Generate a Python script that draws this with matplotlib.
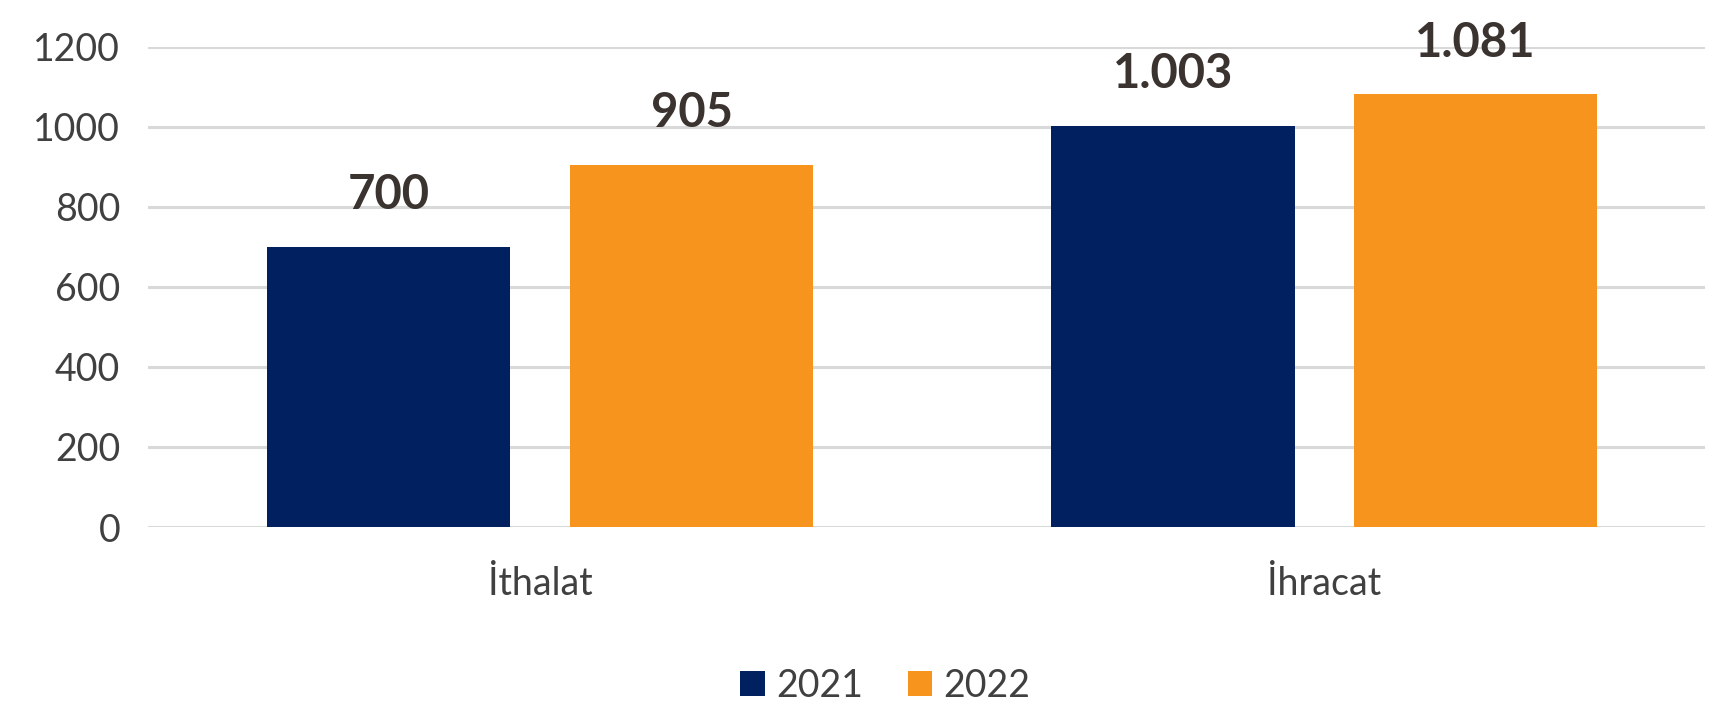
import matplotlib.pyplot as plt
import numpy as np

plt.rcParams['font.family'] = ['Lato', 'DejaVu Sans']

categories = ["İthalat", "İhracat"]
years = ["2021", "2022"]
values_2021 = [700, 1003]
values_2022 = [905, 1081]
colors = ["#00205f", "#f7941d"]


def tr_format(v):
    # Türkçe binlik ayırıcı: 1003 -> 1.003
    return f"{v:,}".replace(",", ".")


fig = plt.figure(figsize=(17.36, 7.04), dpi=100)
ax = fig.add_axes([0.0853, 0.2514, 0.8967, 0.6823])

x = np.arange(len(categories))
width = 0.31
offset = 0.193

for vals, year, color, dx in zip([values_2021, values_2022], years, colors, [-offset, offset]):
    bars = ax.bar(x + dx, vals, width, color=color, label=year, zorder=3)
    for b, v in zip(bars, vals):
        ax.annotate(tr_format(v), (b.get_x() + b.get_width() / 2, v),
                    xytext=(0, 27), textcoords="offset points",
                    ha="center", va="baseline", fontsize=34, fontweight="bold",
                    color="#3a3330", annotation_clip=False)

ax.set_xlim(-0.5, 1.485)
ax.set_ylim(0, 1200)
ax.set_yticks(range(0, 1201, 200))
ax.set_xticks(x)
ax.set_xticklabels(categories)
ax.grid(axis="y", color="#d9d9d9", linewidth=2.2, zorder=0)
ax.tick_params(axis="both", length=0, labelsize=27, labelcolor="#404040")
ax.tick_params(axis="y", pad=20)
ax.tick_params(axis="x", pad=28)
for s in ax.spines.values():
    s.set_visible(False)

fig.legend(loc="center", bbox_to_anchor=(0.51, 0.026), ncol=2, frameon=False,
           fontsize=27, labelcolor="#404040", handlelength=0.65, handleheight=0.65,
           handletextpad=0.3, columnspacing=1.2)

fig.savefig("out.png", dpi=100)
